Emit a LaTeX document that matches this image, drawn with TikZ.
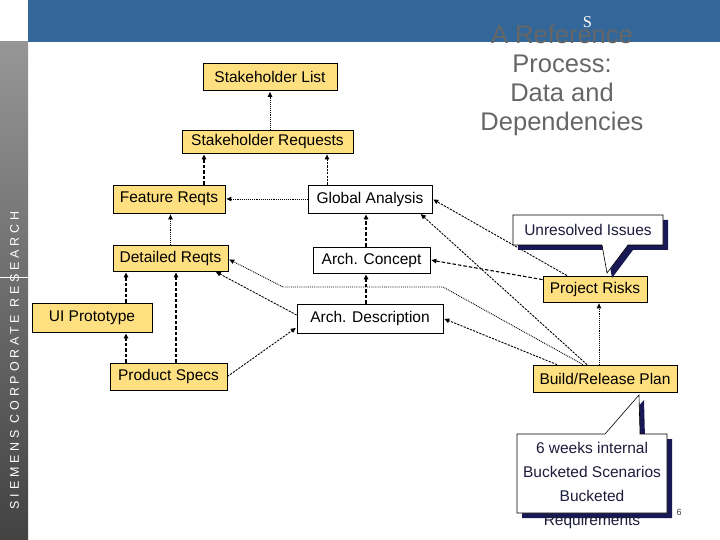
\documentclass[tikz,border=0pt]{standalone}
\usepackage{fontspec}
\setmainfont{Liberation Sans}
\newfontfamily\serifS{Liberation Serif}
\newfontfamily\sidefont[LetterSpace=30]{Liberation Sans}
\usetikzlibrary{arrows.meta}

\definecolor{bannerblue}{RGB}{51,102,153}
\definecolor{reqyellow}{RGB}{255,224,128}
\definecolor{titlegrey}{RGB}{102,102,102}
\definecolor{shadownavy}{RGB}{24,24,84}
\definecolor{calloutink}{RGB}{28,28,60}
\definecolor{sidetop}{RGB}{150,150,150}
\definecolor{sidebottom}{RGB}{66,66,66}

\tikzset{
  box/.style={draw=black, line width=0.8bp, inner sep=0pt, minimum height=27bp,
    font=\fontsize{15.5bp}{18bp}\selectfont},
  reqbox/.style={box, fill=reqyellow},
  archbox/.style={box, fill=white},
  deptip/.style={-{Triangle[length=5bp,width=4.5bp]}, shorten >=1bp},
  dotline/.style={deptip, densely dotted, line width=0.9bp},
  fineline/.style={deptip, dash pattern=on 2.2bp off 1.2bp, line width=0.9bp},
  dashline/.style={deptip, dash pattern=on 3.5bp off 2bp, line width=1.4bp},
  calloutbox/.style={draw=black, line width=0.6bp, fill=white},
  callouttext/.style={text=calloutink, font=\fontsize{15.5bp}{24bp}\selectfont, align=center},
}

\begin{document}
\begin{tikzpicture}[x=1bp,y=-1bp]
    \useasboundingbox (0,0) rectangle (720,540);

    % Slide frame: banner, side bar, title
    \fill[bannerblue] (28,0) rectangle (720,42);
    \shade[top color=sidetop, bottom color=sidebottom] (0,42) rectangle (28,540);
    \draw[white, line width=0.8bp] (0,277) -- (30,277);
    \node[rotate=90, white, font=\sidefont\fontsize{12.5bp}{13bp}\selectfont] (sidetext) at (14.5,360.5) {SIEMENS CORPORATE RESEARCH};
    \node[white, font=\serifS\fontsize{16.5bp}{18bp}\selectfont] (logoS) at (587.5,22.5) {S};
    \node[titlegrey, align=center, font=\fontsize{25.5bp}{29bp}\selectfont] (title) at (562,80) {A Reference\\Process:\\Data and\\Dependencies};

    % Requirements column (yellow)
    \node[reqbox, minimum width=134bp] (SL) at (270,77) {Stakeholder List};
    \node[reqbox, minimum width=171bp, minimum height=23bp] (SR) at (267.5,141.5) {Stakeholder Requests};
    \node[reqbox, minimum width=112bp, minimum height=28bp] (FR) at (169,199) {Feature Reqts};
    \node[reqbox, minimum width=115bp, minimum height=26bp] (DR) at (170.5,258) {Detailed Reqts};
    \node[reqbox, minimum width=120bp, minimum height=29bp] (UI) at (92,317.5) {UI Prototype};
    \node[reqbox, minimum width=117bp] (PS) at (168.5,376.5) {Product Specs};

    % Architecture column (white)
    \node[archbox, minimum width=124bp, minimum height=28bp] (GA) at (370,199) {Global Analysis};
    \node[archbox, minimum width=117bp, minimum height=26bp] (AC) at (371.5,260) {Arch. Concept};
    \node[archbox, minimum width=146bp, minimum height=29bp] (AD) at (370,318.5) {Arch. Description};

    % Planning
    \node[reqbox, minimum width=104bp, minimum height=26bp] (PR) at (595,289) {Project Risks};
    \node[reqbox, minimum width=144bp] (BRP) at (605,378.5) {Build/Release Plan};

    % Edges on the requirements side
    \draw[dotline]  (SL.south |- SR.north) -- (SL.south);
    \draw[dashline] ([xshift=35bp]FR.north) -- ([xshift=35bp]FR.north |- SR.south);
    \draw[fineline] ([xshift=-43bp]GA.north) -- ([xshift=-43bp]GA.north |- SR.south);
    \draw[dotline]  (GA.west) -- (FR.east);
    \draw[dotline]  (DR.north) -- (DR.north |- FR.south);
    \draw[dashline] ([xshift=34bp]UI.north) -- ([xshift=34bp]UI.north |- DR.south);
    \draw[dashline] ([xshift=7.5bp]PS.north) -- ([xshift=7.5bp]PS.north |- DR.south);
    \draw[dashline] ([xshift=-42.5bp]PS.north) -- ([xshift=-42.5bp]PS.north |- UI.south);

    % Edges on the architecture side
    \draw[dashline] ([xshift=-5.5bp]AC.north) -- ([xshift=-5.5bp]AC.north |- GA.south);
    \draw[dashline] ([xshift=-4bp]AD.north) -- ([xshift=-4bp]AD.north |- AC.south);
    \draw[fineline] (PS.east) -- ([yshift=6bp]AD.south west);
    \draw[fineline] ([yshift=3.5bp]AD.west) -- ([xshift=44.5bp]DR.south);

    % Edges from risks and plan
    \coordinate (bendA) at (443,287);
    \coordinate (bendB) at (283,287);
    \draw[dotline]  ([xshift=-22bp]BRP.north) -- (bendA) -- (bendB) -- ([yshift=-1bp]DR.east);
    \draw[fineline] ([xshift=-48bp]BRP.north) -- (AD.east);
    \draw[fineline] ([xshift=-18bp]BRP.north) -- ([xshift=50bp]GA.south);
    \draw[fineline] ([xshift=-28bp]PR.north) -- (GA.east);
    \draw[dashline, line width=1.1bp] ([yshift=-4bp]PR.north west) -- (AC.east);
    \draw[dotline]  ([xshift=-6bp]BRP.north) -- ([xshift=-6bp]BRP.north |- PR.south);

    % Callout on Project Risks
    \fill[shadownavy, shift={(5,5)}] (513,215) -- (663,215) -- (663,245) -- (628,245) -- (607,273) -- (602,245) -- (513,245) -- cycle;
    \draw[calloutbox] (513,215) -- (663,215) -- (663,245) -- (628,245) -- (607,273) -- (602,245) -- (513,245) -- cycle;
    \node[callouttext] (issues) at (588,230) {Unresolved Issues};

    % Callout on Build/Release Plan
    \fill[shadownavy, shift={(5,5)}] (517,434) -- (605,434) -- (639,395) -- (640,434) -- (667,434) -- (667,513) -- (517,513) -- cycle;
    \draw[calloutbox] (517,434) -- (605,434) -- (639,395) -- (640,434) -- (667,434) -- (667,513) -- (517,513) -- cycle;
    \node[callouttext] (buckets) at (592,485) {6 weeks internal\\Bucketed Scenarios\\Bucketed\\Requirements};

    % Page number
    \node[text=black!75, font=\fontsize{9bp}{10bp}\selectfont] (pagenum) at (679,512) {6};
\end{tikzpicture}
\end{document}
